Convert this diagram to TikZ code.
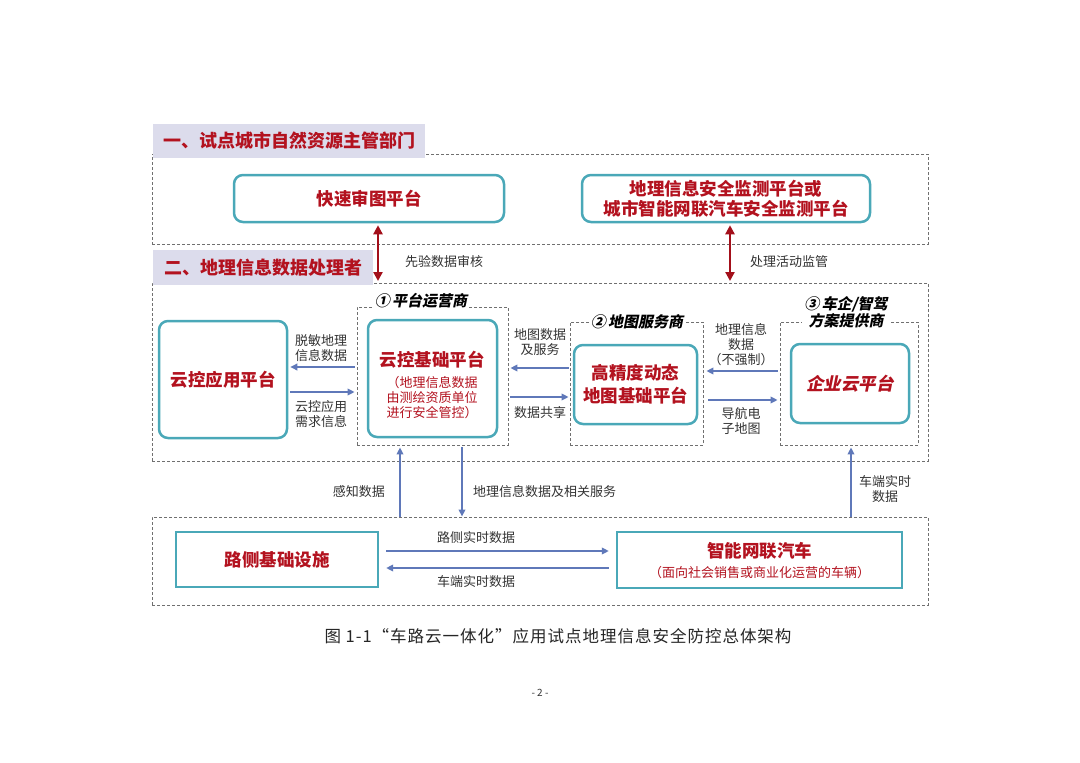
\documentclass[tikz,border=0pt]{standalone}
\usepackage{fontspec}
\setmainfont{Noto Sans CJK SC}
\newfontfamily\cjkit[FakeSlant=0.2,BoldFeatures={FakeSlant=0.2}]{Noto Sans CJK SC}
\newfontfamily\capfont[LetterSpace=6]{Noto Sans CJK SC}
\usetikzlibrary{arrows.meta}
\definecolor{tealc}{HTML}{4AA8B8}
\definecolor{redc}{HTML}{B3121F}
\definecolor{darkred}{HTML}{A30F1A}
\definecolor{bluec}{HTML}{5F78B9}
\definecolor{hdr}{HTML}{DCDCEC}
\definecolor{dashc}{HTML}{707070}
\definecolor{lblc}{HTML}{333333}
\tikzset{
  container/.style={draw=dashc, line width=0.9pt, dash pattern=on 3pt off 2pt, fill=none},
  subbox/.style={draw=dashc, line width=0.8pt, dash pattern=on 3pt off 2pt},
  platform/.style={draw=tealc, line width=2.5pt, rounded corners=9pt, fill=white, align=center,
    text=redc, font=\bfseries\fontsize{17.5}{21}\selectfont},
  squarebox/.style={draw=tealc, line width=2.3pt, fill=white, align=center,
    text=redc, font=\bfseries\fontsize{17.5}{21}\selectfont},
  header/.style={fill=hdr, text=redc, font=\bfseries\fontsize{18}{22}\selectfont, inner sep=0pt},
  subtitle/.style={fill=white, text=black, align=center, inner sep=2pt,
    font=\cjkit\bfseries\fontsize{15}{17.5}\selectfont},
  lbl/.style={text=lblc, align=center, inner sep=0pt, font=\fontsize{13}{15}\selectfont},
  barrow/.style={draw=bluec, line width=2.1pt, -{Triangle[length=7pt,width=6.5pt]}},
  rarrow/.style={draw=darkred, line width=2.6pt, {Triangle[length=9pt,width=9pt]}-{Triangle[length=9pt,width=9pt]}},
  small/.style={font=\fontsize{13}{15}\selectfont, text=redc}
}
\begin{document}
\begin{tikzpicture}[x=1pt,y=-1pt]
\useasboundingbox (0,0) rectangle (1080,763);
\fill[white] (0,0) rectangle (1080,763);

% containers
\node[container, minimum width=776pt, minimum height=90pt] (top) at (540,199) {};
\node[container, minimum width=776pt, minimum height=178pt] (mid) at (540,372) {};
\node[container, minimum width=776pt, minimum height=88pt] (bot) at (540,561) {};

% headers
\node[header, minimum width=272pt, minimum height=34pt] (h1) at (289,141) {一、试点城市自然资源主管部门};
\node[header, minimum width=220pt, minimum height=35pt] (h2) at (263,267.5) {二、地理信息数据处理者};

% top platforms
\node[platform, minimum width=270pt, minimum height=47pt] (kuaisu) at (369,198.5) {快速审图平台};
\node[platform, minimum width=288pt, minimum height=47pt, font=\bfseries\fontsize{17.5}{20}\selectfont] (jiance) at (726,198.5) {地理信息安全监测平台或\\城市智能网联汽车安全监测平台};

% red double arrows
\coordinate (r1end) at (378,281);
\coordinate (r2end) at (730,281);
\draw[rarrow, shorten <=2pt] (kuaisu.south -| r1end) -- (r1end);
\draw[rarrow, shorten <=2pt] (jiance.south -| r2end) -- (r2end);
\node[lbl, anchor=west] (l0a) at (405,262) {先验数据审核};
\node[lbl, anchor=west] (l0b) at (750,262) {处理活动监管};

% sub dashed boxes
\node[subbox, minimum width=151pt, minimum height=138pt] (sub1) at (432.5,376) {};
\node[subbox, minimum width=133pt, minimum height=123pt] (sub2) at (636.5,383.5) {};
\node[subbox, minimum width=138pt, minimum height=123pt] (sub3) at (849,383.5) {};
\node[subtitle] (t1) at (421,301) {①\,平台运营商};
\node[subtitle] (t2) at (637,322) {②\,地图服务商};
\node[subtitle] (t3) at (846,312) {③\,车企/智驾\\方案提供商};

% middle platforms
\node[platform, minimum width=128pt, minimum height=117pt] (yyyy) at (223,379.5) {云控应用平台};
\node[platform, minimum width=129pt, minimum height=117pt] (jichu) at (432.5,378.5) {};
\node[text=redc, font=\bfseries\fontsize{17.5}{21}\selectfont] (jichuT) at (432,360) {云控基础平台};
\node[small, align=center, inner sep=0pt] (jichuS) at (432,398) {（地理信息数据\\由测绘资质单位\\进行安全管控）};
\node[platform, minimum width=123pt, minimum height=79pt, font=\bfseries\fontsize{17.5}{23}\selectfont] (gaojing) at (635.5,384.5) {高精度动态\\地图基础平台};
\node[platform, minimum width=118pt, minimum height=79pt, font=\cjkit\bfseries\fontsize{17.5}{21}\selectfont] (qiye) at (850,383.5) {企业云平台};

% horizontal arrows middle
\draw[barrow, shorten <=2pt, shorten >=2pt] (sub1.west |- 0,367) -- (yyyy.east |- 0,367);
\draw[barrow, shorten <=2pt, shorten >=2pt] (yyyy.east |- 0,392) -- (sub1.west |- 0,392);
\draw[barrow, shorten <=1pt, shorten >=2pt] (sub2.west |- 0,368) -- (sub1.east |- 0,368);
\draw[barrow, shorten <=2pt, shorten >=1pt] (sub1.east |- 0,397) -- (sub2.west |- 0,397);
\draw[barrow, shorten <=2pt, shorten >=3pt] (sub3.west |- 0,371) -- (sub2.east |- 0,371);
\draw[barrow, shorten <=5pt, shorten >=2pt] (sub2.east |- 0,400) -- (sub3.west |- 0,400);

\node[lbl] (l1) at (321,348) {脱敏地理\\信息数据};
\node[lbl] (l2) at (321,414.5) {云控应用\\需求信息};
\node[lbl] (l3) at (540,342.5) {地图数据\\及服务};
\node[lbl] (l4) at (540,413) {数据共享};
\node[lbl] (l5) at (741,345) {地理信息\\数据\\（不强制）};
\node[lbl] (l6) at (741,420.5) {导航电\\子地图};

% vertical arrows
\draw[barrow, shorten >=2pt] (bot.north -| 400,0) -- (sub1.south -| 400,0);
\draw[barrow, shorten <=2pt] (sub1.south -| 462,0) -- (bot.north -| 462,0);
\draw[barrow, shorten >=2pt] (bot.north -| 851,0) -- (sub3.south -| 851,0);
\node[lbl, anchor=east] (l7) at (385,492) {感知数据};
\node[lbl, anchor=west] (l8) at (473,492) {地理信息数据及相关服务};
\node[lbl] (l9) at (885,489.5) {车端实时\\数据};

% bottom boxes
\node[squarebox, minimum width=202pt, minimum height=55pt] (luce) at (277,559.5) {路侧基础设施};
\node[squarebox, minimum width=285pt, minimum height=56pt] (car) at (759.5,560) {};
\node[text=redc, font=\bfseries\fontsize{17.5}{21}\selectfont] (carT) at (759.5,551) {智能网联汽车};
\node[small] (carS) at (759.5,573) {（面向社会销售或商业化运营的车辆）};

\draw[barrow, shorten <=7pt, shorten >=7pt] (luce.east |- 0,551) -- (car.west |- 0,551);
\draw[barrow, shorten <=7pt, shorten >=7pt] (car.west |- 0,568) -- (luce.east |- 0,568);
\node[lbl] (l10) at (476,538) {路侧实时数据};
\node[lbl] (l11) at (476,582) {车端实时数据};

% caption
\node[text=black!85, font=\capfont\fontsize{16.5}{20}\selectfont] (cap) at (558,636) {图 1-1“车路云一体化”应用试点地理信息安全防控总体架构};
\node[text=black!80, font=\fontsize{10}{12}\selectfont] (pg) at (540,693) {- 2 -};
\end{tikzpicture}
\end{document}
